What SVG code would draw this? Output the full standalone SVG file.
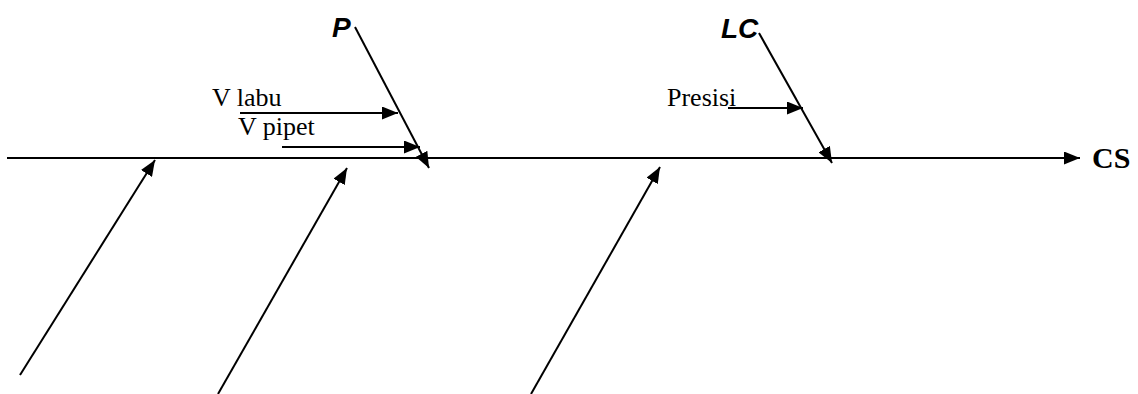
<svg xmlns="http://www.w3.org/2000/svg" width="1138" height="394" viewBox="0 0 1138 394">
<style>
.ln{stroke:#000;stroke-width:2;fill:none}
.lbl{font-family:"Liberation Serif",serif;font-size:26px;fill:#000}
.cat{font-family:"Liberation Sans",sans-serif;font-size:28px;font-weight:bold;font-style:italic;fill:#000}
.out{font-family:"Liberation Serif",serif;font-size:30px;font-weight:bold;fill:#000}
</style>
<defs>
<marker id="ah" markerUnits="userSpaceOnUse" markerWidth="17" markerHeight="13" refX="16" refY="6.5" orient="auto">
<path d="M0,0 L16,6.5 L0,13 z" fill="#000"/>
</marker>
</defs>
<g id="connectors">
<line class="ln" x1="7" y1="158" x2="1080" y2="158" marker-end="url(#ah)"/>
<line class="ln" x1="355" y1="27" x2="429" y2="168" marker-end="url(#ah)"/>
<line class="ln" x1="240" y1="113" x2="398" y2="113" marker-end="url(#ah)"/>
<line class="ln" x1="282" y1="147" x2="420" y2="147" marker-end="url(#ah)"/>
<line class="ln" x1="759" y1="33" x2="832" y2="163" marker-end="url(#ah)"/>
<line class="ln" x1="728" y1="108" x2="803" y2="108" marker-end="url(#ah)"/>
<line class="ln" x1="20" y1="375" x2="155" y2="160" marker-end="url(#ah)"/>
<line class="ln" x1="218" y1="394" x2="347" y2="168" marker-end="url(#ah)"/>
<line class="ln" x1="531" y1="394" x2="660" y2="167" marker-end="url(#ah)"/>
</g>
<g id="node-P"><text class="cat" x="332" y="37">P</text></g>
<g id="node-LC"><text class="cat" x="721" y="38">LC</text></g>
<g id="node-Vlabu"><text class="lbl" x="212" y="106">V labu</text></g>
<g id="node-Vpipet"><text class="lbl" x="238" y="135">V pipet</text></g>
<g id="node-Presisi"><text class="lbl" x="667" y="106">Presisi</text></g>
<g id="node-CS"><text class="out" x="1092" y="168">CS</text></g>
</svg>
